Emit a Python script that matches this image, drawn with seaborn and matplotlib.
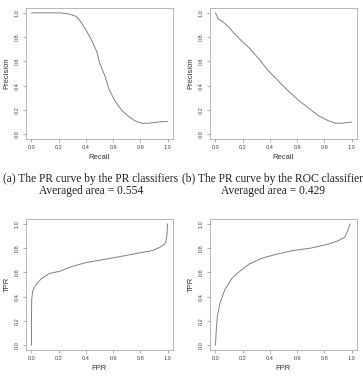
import numpy as np
import pandas as pd
import seaborn as sns
import matplotlib
import matplotlib.pyplot as plt

sns.set_theme(style="white")
plt.rcParams['font.family'] = ['Liberation Sans', 'DejaVu Sans']

# PR curve, PR classifiers (a)
recall_a = [0.0, 0.10, 0.21, 0.28, 0.33, 0.36, 0.40, 0.44, 0.48, 0.50, 0.54, 0.57,
            0.61, 0.66, 0.71, 0.76, 0.81, 0.86, 0.93, 1.0]
prec_a = [1.0, 1.0, 1.0, 0.99, 0.97, 0.93, 0.86, 0.78, 0.68, 0.59, 0.48, 0.37,
          0.28, 0.20, 0.15, 0.11, 0.09, 0.09, 0.10, 0.105]

# PR curve, ROC classifier (b)
recall_b = [0.0, 0.02, 0.05, 0.10, 0.13, 0.19, 0.24, 0.32, 0.39, 0.47, 0.54, 0.61,
            0.69, 0.76, 0.83, 0.88, 0.93, 1.0]
prec_b = [1.0, 0.95, 0.93, 0.88, 0.84, 0.77, 0.72, 0.62, 0.52, 0.43, 0.35, 0.28,
          0.21, 0.15, 0.11, 0.09, 0.09, 0.10]

# ROC curve (c)
fpr_c = [0.0, 0.0, 0.002, 0.01, 0.034, 0.07, 0.13, 0.21, 0.30, 0.40, 0.50, 0.60,
         0.70, 0.79, 0.89, 0.95, 0.985, 0.995, 1.0]
tpr_c = [0.0, 0.21, 0.38, 0.45, 0.50, 0.545, 0.59, 0.61, 0.65, 0.68, 0.70, 0.72,
         0.74, 0.76, 0.78, 0.81, 0.84, 0.90, 1.0]

# ROC curve (d)
fpr_d = [0.0, 0.005, 0.014, 0.034, 0.07, 0.12, 0.18, 0.25, 0.35, 0.45, 0.57, 0.70,
         0.82, 0.90, 0.95, 0.97, 0.99]
tpr_d = [0.0, 0.105, 0.24, 0.35, 0.46, 0.55, 0.61, 0.67, 0.72, 0.75, 0.78, 0.80,
         0.83, 0.86, 0.89, 0.94, 1.0]

ticks = [0.0, 0.2, 0.4, 0.6, 0.8, 1.0]
tick_labels = ['0.0', '0.2', '0.4', '0.6', '0.8', '1.0']

captions = [("(a) The PR curve by the PR classifiers", "Averaged area = 0.554"),
            ("(b) The PR curve by the ROC classifier", "Averaged area = 0.429")]

W, H = 363, 384
fig = plt.figure(figsize=(W / 100, H / 100), dpi=100)


def make_ax(left, top):
    ax = fig.add_axes([left / W, (H - top - 131) / H, 147 / W, 131 / H])
    ax.set_xlim(-0.04, 1.04)
    ax.set_ylim(-0.04, 1.04)
    ax.set_xticks(ticks)
    ax.set_yticks(ticks)
    ax.set_xticklabels(tick_labels, fontsize=4, color='#444444')
    ax.set_yticklabels(tick_labels, fontsize=4, color='#444444', rotation=90, va='center')
    ax.tick_params(axis='both', direction='out', length=2.5, width=0.5, color='#888888',
                   pad=2, bottom=True, left=True)
    for s in ax.spines.values():
        s.set_color('#aaaaaa')
        s.set_linewidth(0.6)
    return ax


panels = [
    (26, 8, recall_a, prec_a, 'Recall', 'Precision'),
    (210, 8, recall_b, prec_b, 'Recall', 'Precision'),
    (26, 219, fpr_c, tpr_c, 'FPR', 'TPR'),
    (210, 219, fpr_d, tpr_d, 'FPR', 'TPR'),
]

for left, top, xs, ys, xl, yl in panels:
    ax = make_ax(left, top)
    df = pd.DataFrame({'x': xs, 'y': ys})
    sns.lineplot(data=df, x='x', y='y', ax=ax, sort=False, estimator=None,
                 color='#808080', linewidth=0.7)
    ax.set_xlabel(xl, fontsize=5.5, color='#333333', labelpad=3)
    ax.set_ylabel(yl, fontsize=5.5, color='#333333', labelpad=3)

# captions under top panels
for i, (l1, l2) in enumerate(captions):
    cx = (91 + 182 * i) / W
    fig.text(cx, 1 - 179 / H, l1, ha='center', va='center', fontsize=8.3,
             family=['Liberation Serif', 'DejaVu Serif'], color='#222222')
    fig.text(cx, 1 - 191 / H, l2, ha='center', va='center', fontsize=8.3,
             family=['Liberation Serif', 'DejaVu Serif'], color='#222222')

fig.savefig('out.png', dpi=100)
